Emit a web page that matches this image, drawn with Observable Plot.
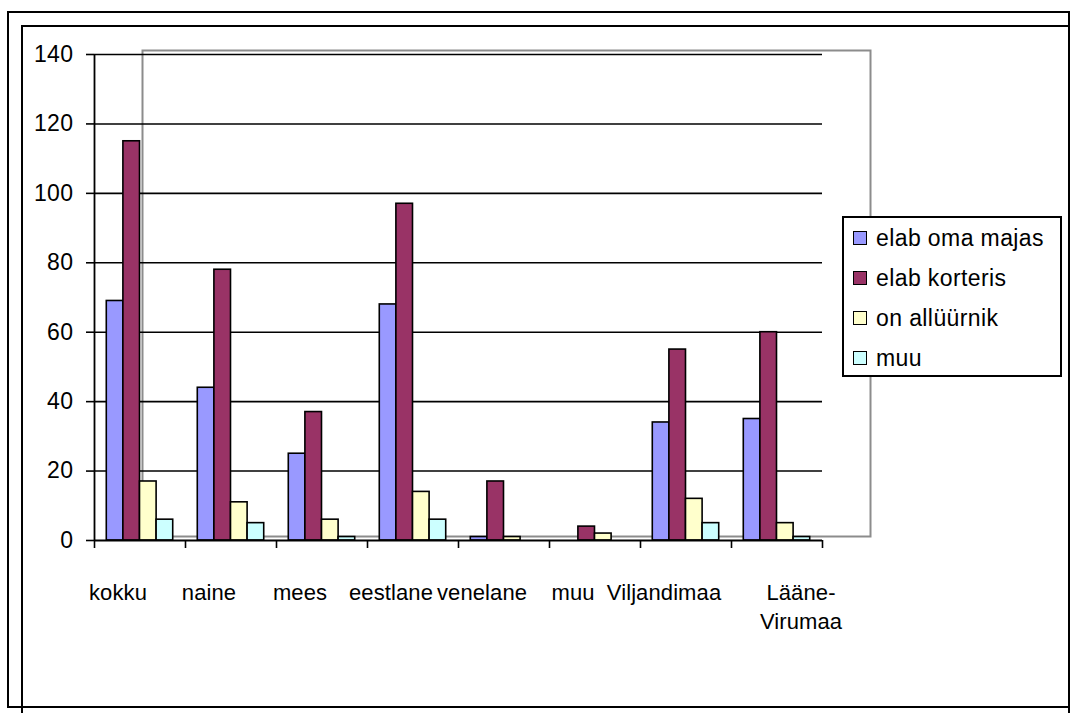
<!DOCTYPE html>
<html>
<head>
<meta charset="utf-8">
<script src="https://cdn.jsdelivr.net/npm/d3@7"></script>
<script src="https://cdn.jsdelivr.net/npm/@observablehq/plot@0.6"></script>
<style>
  body { margin: 0; background: #fff; font-family: "Liberation Sans", Arial, sans-serif; }
  #wrap { position: relative; width: 1070px; height: 713px; overflow: hidden; }
  #wrap svg { position: absolute; left: 0; top: 0; letter-spacing: 0.4px; }
  #wrap svg g[aria-label="text"] text { letter-spacing: 0.1px; }
  .box { position: absolute; border: 2px solid #000; box-sizing: border-box; }
  #legend { position: absolute; left: 842px; top: 216px; width: 220px; height: 161px;
    border: 2px solid #000; box-sizing: border-box; background: #fff; font-size: 23px; letter-spacing: 0.4px; color: #000; }
  .row { position: absolute; left: 0; height: 40px; width: 100%; }
  .sw { position: absolute; left: 9px; top: 13px; width: 14px; height: 14px; border: 1.5px solid #000; box-sizing: border-box; }
  .lab { position: absolute; left: 32px; top: 0; line-height: 40px; white-space: nowrap; }
</style>
</head>
<body>
<div id="wrap"></div>
<script>
// ---- data ----
const categories = ["kokku", "naine", "mees", "eestlane", "venelane", "muu", "Viljandimaa", "Lääne-Virumaa"];
const seriesNames = ["elab oma majas", "elab korteris", "on allüürnik", "muu"];
const omaMajas  = [69, 44, 25, 68, 1, 0, 34, 35];
const korteris  = [115, 78, 37, 97, 17, 4, 55, 60];
const allyyrnik = [17, 11, 6, 14, 1, 2, 12, 5];
const muuVal    = [6, 5, 1, 6, 0, 0, 5, 1];
const yTicks = [0, 20, 40, 60, 80, 100, 120, 140];
const colors = ["#9999FF", "#993366", "#FFFFCC", "#CCFFFF"];

const seriesValues = [omaMajas, korteris, allyyrnik, muuVal];
const rows = [];
seriesNames.forEach((s, si) => categories.forEach((c, ci) =>
  rows.push({cat: c, ci, series: s, si, value: seriesValues[si][ci]})));

const outer = 0.135;
const bw = (1 - 2 * outer) / seriesNames.length;
const font = "'Liberation Sans', Arial, sans-serif";

// labels that wrap onto two lines sit a little to the right (as in the original)
const singleLine = categories.filter(c => !c.includes("-"));
const wrapped = categories.filter(c => c.includes("-"));
const labelOpts = {
  x: d => categories.indexOf(d) + 0.5,
  frameAnchor: "bottom",
  dy: 38,
  lineAnchor: "top",
  lineHeight: 1.35,
  text: d => d.replace("-", "-\n"),
  fontSize: 22,
  fill: "#000"
};

const chart = Plot.plot({
  width: 1070,
  height: 713,
  marginLeft: 94,
  marginRight: 248,
  marginTop: 54,
  marginBottom: 173,
  style: {fontFamily: font, fontSize: "23px", color: "#000", background: "transparent", overflow: "visible"},
  x: {domain: [0, categories.length], axis: null},
  y: {domain: [0, 140], axis: null},
  color: {domain: seriesNames, range: colors},
  marks: [
    Plot.frame({stroke: "#8c8c8c", strokeWidth: 2, dx: 48, dy: -4}),
    Plot.ruleY(yTicks.slice(1), {stroke: "#000", strokeWidth: 1.6}),
    Plot.rect(rows, {
      x1: d => d.ci + outer + d.si * bw,
      x2: d => d.ci + outer + (d.si + 1) * bw,
      y1: 0,
      y2: "value",
      fill: "series",
      stroke: "#000",
      strokeWidth: 1.6
    }),
    Plot.ruleY([0], {stroke: "#000", strokeWidth: 1.8}),
    Plot.ruleX([0], {stroke: "#000", strokeWidth: 1.8}),
    Plot.axisY({ticks: yTicks, tickSize: 8, tickPadding: 13, strokeWidth: 1.6, fontSize: 23, label: null, tickFormat: d => String(d)}),
    Plot.axisX({ticks: d3.range(0, categories.length + 1), tickSize: 8, strokeWidth: 1.6, tickFormat: () => "", label: null}),
    Plot.text(singleLine, {...labelOpts, dx: -22}),
    Plot.text(wrapped, {...labelOpts, dx: 24})
  ]
});

const wrap = document.getElementById("wrap");
wrap.appendChild(chart);

// page borders
const b1 = document.createElement("div");
b1.className = "box";
Object.assign(b1.style, {left: "7px", top: "11px", width: "1063px", height: "697px"});
wrap.appendChild(b1);
const b2 = document.createElement("div");
b2.className = "box";
Object.assign(b2.style, {left: "21px", top: "25px", width: "1049px", height: "700px"});
wrap.appendChild(b2);

// legend
const legend = document.createElement("div");
legend.id = "legend";
seriesNames.forEach((s, i) => {
  const row = document.createElement("div");
  row.className = "row";
  row.style.top = (i * 40) + "px";
  const sw = document.createElement("div");
  sw.className = "sw";
  sw.style.background = colors[i];
  const lab = document.createElement("div");
  lab.className = "lab";
  lab.textContent = s;
  row.appendChild(sw);
  row.appendChild(lab);
  legend.appendChild(row);
});
wrap.appendChild(legend);
</script>
</body>
</html>
